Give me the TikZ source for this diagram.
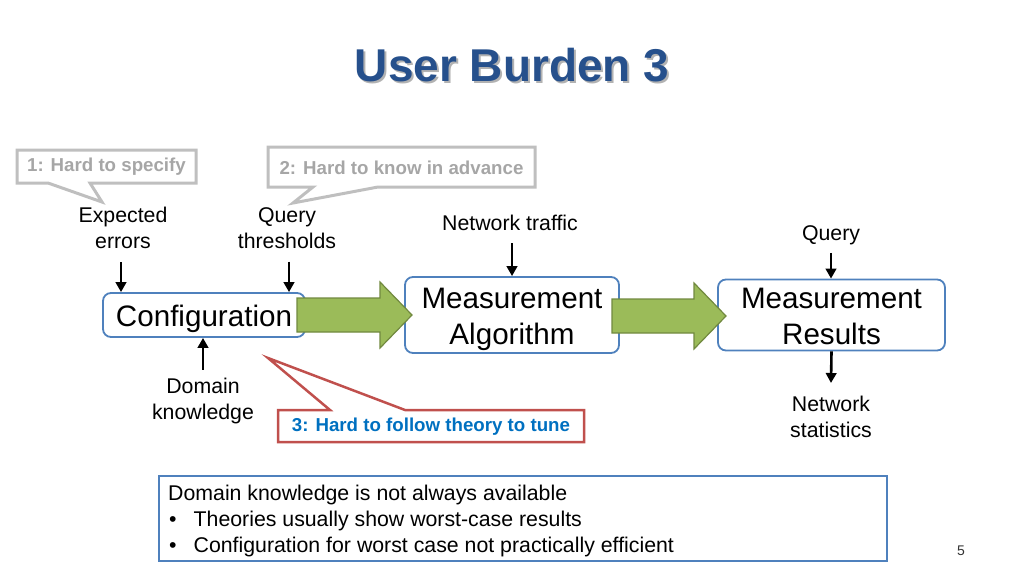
\documentclass[tikz,border=0pt]{standalone}
\usepackage{fontspec}
\setmainfont{Liberation Sans}
\usetikzlibrary{arrows.meta,positioning,calc}
\definecolor{TitleClr}{RGB}{38,80,140}
\definecolor{BoxClr}{RGB}{79,129,189}
\definecolor{GreenClr}{RGB}{155,187,89}
\definecolor{GreenLineClr}{RGB}{113,137,63}
\definecolor{RedClr}{RGB}{192,80,77}
\definecolor{NoteClr}{RGB}{0,112,192}
\definecolor{GrayLineClr}{RGB}{191,191,191}
\definecolor{GrayTextClr}{RGB}{166,166,166}

\begin{document}
\begin{tikzpicture}[x=1pt,y=-1pt,
  box/.style={draw=BoxClr,line width=1.8pt,rounded corners=8pt,fill=white,
    align=center,inner sep=0pt,font=\fontsize{29.6}{36}\selectfont},
  lbl/.style={align=center,inner sep=0pt,font=\fontsize{21.3}{26}\selectfont},
  arr/.style={line width=2.6pt,-{Triangle[length=10pt,width=10.5pt]}},
  blockarr/.style={fill=GreenClr,draw=GreenLineClr,line width=1.2pt,line join=miter},
  note/.style={inner sep=0pt,font=\bfseries\fontsize{18.7}{22}\selectfont}]
\useasboundingbox (0,0) rectangle (1024,576);

% title
\node[text=black!30,font=\bfseries\fontsize{46}{50}\selectfont] at (514,67) {User Burden 3};
\node[text=TitleClr,font=\bfseries\fontsize{46}{50}\selectfont] (title) at (512,65) {User Burden 3};

% callouts
\draw[GrayLineClr,line width=3pt,line join=miter] (17,150) -- (196,150) -- (196,183)
  -- (90,183) -- (102,202) -- (48,183) -- (17,183) -- cycle;
\node[note,text=GrayTextClr] (note1) at (106.5,166.5) {1: Hard to specify};
\draw[GrayLineClr,line width=3pt,line join=miter] (268,147) -- (535,147) -- (535,187)
  -- (378,187) -- (293,203) -- (313,187) -- (268,187) -- cycle;
\node[note,text=GrayTextClr] (note2) at (401.5,168) {2: Hard to know in advance};
\draw[RedClr,line width=2.5pt,line join=miter] (278,410) -- (330,410) -- (268,358)
  -- (405,410) -- (584,410) -- (584,442) -- (278,442) -- cycle;
\node[note,text=NoteClr] (note3) at (431,427) {3: Hard to follow theory to tune};

% boxes
\node[box,text height=30pt,minimum width=202pt,minimum height=44pt] (conf) at (204,315) {Configuration};
\node[box,text height=66pt,minimum width=214pt,minimum height=76pt] (algo) at (512,315) {Measurement\\Algorithm};
\node[box,text height=60pt,minimum width=227pt,minimum height=71pt] (res) at (831.5,315) {Measurement\\Results};

% labels
\node[lbl] (errors) at (123,228) {Expected\\errors};
\node[lbl] (thresh) at (287,228) {Query\\thresholds};
\node[lbl] (traffic) at (510,223) {Network traffic};
\node[lbl] (query) at (831,235) {Query};
\node[lbl] (domain) at (203,401) {Domain\\knowledge};
\node[lbl] (stats) at (831,417) {Network\\statistics};

% arrows
\draw[arr] ([xshift=-2pt,yshift=-13pt]errors.south) -- ([xshift=-2pt]errors.south |- conf.north);
\draw[arr] ([xshift=2pt,yshift=-13pt]thresh.south) -- ([xshift=2pt]thresh.south |- conf.north);
\draw[arr] ([xshift=2pt,yshift=-12pt]traffic.south) -- (algo.north);
\draw[arr] ([yshift=-8pt]query.south) -- (query.south |- res.north);
\draw[arr] ([yshift=8pt]domain.north) -- (domain.north |- conf.south);
\draw[arr] (res.south) -- ([yshift=13pt]stats.north);

% block arrows
\draw[blockarr] (297,298) -- (380,298) -- (380,282) -- (412,315) -- (380,348) -- (380,332) -- (297,332) -- cycle;
\draw[blockarr] (612,299) -- (694,299) -- (694,283) -- (726,316) -- (694,349) -- (694,333) -- (612,333) -- cycle;

% summary
\draw[BoxClr,line width=1.8pt] (159,476) rectangle (887,561);
\node[anchor=north west,inner sep=0pt,font=\fontsize{21.3}{26}\selectfont,align=left] (sum) at (168,485)
  {Domain knowledge is not always available\\
   \hspace*{1pt}\textbullet\hspace{17pt}Theories usually show worst-case results\\
   \hspace*{1pt}\textbullet\hspace{17pt}Configuration for worst case not practically efficient};

\node[font=\fontsize{14}{16}\selectfont,text=black!80] (page) at (961,551) {5};
\end{tikzpicture}
\end{document}
